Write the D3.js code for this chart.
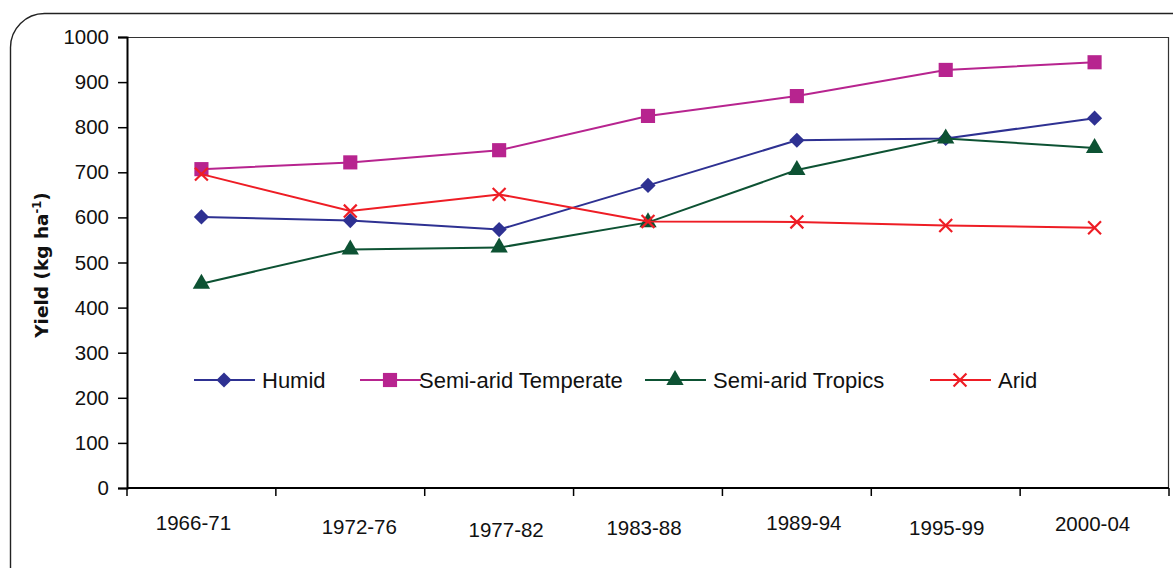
<!DOCTYPE html>
<html>
<head>
<meta charset="utf-8">
<script src="https://d3js.org/d3.v7.min.js"></script>
<style>
  body { margin: 0; background: #fff; }
  text { font-family: "Liberation Sans", Arial, sans-serif; fill: #111; }
</style>
</head>
<body>
<div id="container"></div>
<script>
// data
var periods = ["1966-71", "1972-76", "1977-82", "1983-88", "1989-94", "1995-99", "2000-04"];
var humid = [601, 593, 573, 671, 771, 775, 820];
var semiAridTemperate = [707, 722, 749, 825, 869, 927, 944];
var semiAridTropics = [453, 529, 533, 589, 705, 775, 754];
var arid = [696, 614, 651, 591, 590, 582, 577];
var yTicks = [0, 100, 200, 300, 400, 500, 600, 700, 800, 900, 1000];

var series = [
  { name: "Humid", values: humid, color: "#2e3192", symbol: d3.symbolSquare, size: 115, rotate: 45, legendX: 194 },
  { name: "Semi-arid Temperate", values: semiAridTemperate, color: "#b7248f", symbol: d3.symbolSquare, size: 200, rotate: 0, legendX: 360 },
  { name: "Semi-arid Tropics", values: semiAridTropics, color: "#0d5233", symbol: d3.symbolTriangle, size: 130, rotate: 0, legendX: 645 },
  { name: "Arid", values: arid, color: "#ee1d25", symbol: d3.symbolX, size: 110, rotate: 0, legendX: 930 }
];

var width = 1173, height = 568;
var mLeft = 127, mRight = 1169, mTop = 37, mBottom = 488;
// the category labels sit a bit off-centre, up and down, in the original
var labelDx = [-8, 9, 7, -4, 7, 1, -2];
var labelDy = [0, 4, 7, 5, 0, 5, 1];

var svg = d3.select("#container").append("svg")
    .attr("width", width)
    .attr("height", height);

// rounded frame round the whole chart
svg.append("rect")
    .attr("x", 10.5).attr("y", 13.5)
    .attr("width", 1220).attr("height", 600)
    .attr("rx", 34)
    .attr("fill", "none")
    .attr("stroke", "#222")
    .attr("stroke-width", 1.4);

var x = d3.scaleBand().domain(periods).range([mLeft, mRight]);
var y = d3.scaleLinear().domain([0, 1000]).range([mBottom, mTop]);

// plot area border (top and right)
svg.append("path")
    .attr("d", "M" + mLeft + "," + (mTop + 0.5) + "H" + (mRight - 0.5) + "V" + mBottom)
    .attr("fill", "none")
    .attr("stroke", "#333")
    .attr("stroke-width", 1.2);

var yAxis = svg.append("g")
    .attr("transform", "translate(" + mLeft + ",0)")
    .call(d3.axisLeft(y).tickValues(yTicks).tickFormat(d3.format("d")).tickSize(9).tickPadding(9));
yAxis.select(".domain").attr("stroke", "#000").attr("stroke-width", 2);
yAxis.selectAll(".tick line").attr("stroke", "#000").attr("stroke-width", 1.5);
yAxis.selectAll("text").style("font-size", "20.5px").attr("fill", "#111");

var xAxis = svg.append("g")
    .attr("transform", "translate(0," + mBottom + ")")
    .call(d3.axisBottom(x).tickSize(0).tickPadding(30));
xAxis.select(".domain").remove();
xAxis.selectAll("text")
    .style("font-size", "20.5px")
    .attr("fill", "#111")
    .attr("dx", function(d, i) { return labelDx[i] + "px"; })
    .attr("dy", function(d, i) { return (labelDy[i] + 12) + "px"; });

// x axis line with ticks at band edges
svg.append("line")
    .attr("x1", mLeft).attr("x2", mRight)
    .attr("y1", mBottom).attr("y2", mBottom)
    .attr("stroke", "#000").attr("stroke-width", 2);
svg.selectAll(".xtick")
    .data(periods)
    .enter().append("line")
    .attr("class", "xtick")
    .attr("x1", function(d) { return x(d) + x.bandwidth(); })
    .attr("x2", function(d) { return x(d) + x.bandwidth(); })
    .attr("y1", mBottom).attr("y2", mBottom + 8)
    .attr("stroke", "#000").attr("stroke-width", 1.5);
svg.append("line")
    .attr("x1", mLeft).attr("x2", mLeft)
    .attr("y1", mBottom).attr("y2", mBottom + 8)
    .attr("stroke", "#000").attr("stroke-width", 1.5);

// y axis title
var yTitle = svg.append("text")
    .attr("transform", "translate(48,265) rotate(-90)")
    .attr("text-anchor", "middle")
    .style("font-family", "'DejaVu Sans', Verdana, sans-serif")
    .style("font-size", "18.5px")
    .style("font-weight", "bold")
    .text("Yield (kg ha");
yTitle.append("tspan").attr("dy", "-7").style("font-size", "11.5px").text("-1");
yTitle.append("tspan").attr("dy", "7").text(")");

var line = d3.line()
    .x(function(d, i) { return x(periods[i]) + x.bandwidth() / 2; })
    .y(function(d) { return y(d); });

function drawSymbol(g, s) {
  if (s.symbol === d3.symbolX) {
    g.attr("fill", "none").attr("stroke", s.color).attr("stroke-width", 2.2);
  } else {
    g.attr("fill", s.color).attr("stroke", "none");
  }
}

series.forEach(function(s) {
  svg.append("path")
      .datum(s.values)
      .attr("d", line)
      .attr("fill", "none")
      .attr("stroke", s.color)
      .attr("stroke-width", 2);

  var pts = svg.selectAll(null)
      .data(s.values)
      .enter().append("path")
      .attr("transform", function(d, i) {
        return "translate(" + (x(periods[i]) + x.bandwidth() / 2) + "," + y(d) + ") rotate(" + s.rotate + ")";
      })
      .attr("d", d3.symbol().type(s.symbol).size(s.size));
  drawSymbol(pts, s);
});

// legend
var legendY = 380;
series.forEach(function(s) {
  var g = svg.append("g").attr("transform", "translate(" + s.legendX + "," + legendY + ")");
  g.append("line")
      .attr("x1", 0).attr("x2", 61)
      .attr("stroke", s.color).attr("stroke-width", 2);
  var m = g.append("path")
      .attr("transform", "translate(30,0) rotate(" + s.rotate + ")")
      .attr("d", d3.symbol().type(s.symbol).size(s.size));
  drawSymbol(m, s);
  g.append("text")
      .attr("x", s.name === "Semi-arid Temperate" ? 59 : 68)
      .attr("y", 0)
      .attr("dy", "0.35em")
      .style("font-size", "22px")
      .text(s.name);
});
</script>
</body>
</html>
